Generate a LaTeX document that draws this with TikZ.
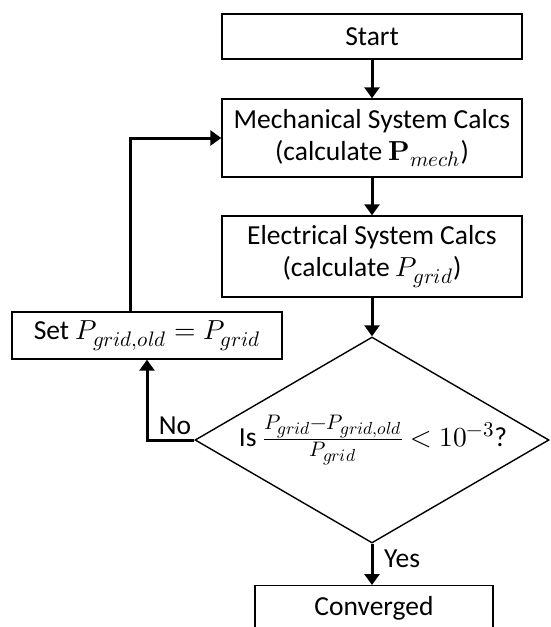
\documentclass[tikz,border=0pt]{standalone}
\usepackage{fontspec}
\usepackage{unicode-math}
\setmainfont{Carlito}
\setmathfont{Latin Modern Math}
\DeclareMathSizes{27.5}{27.5}{21}{17.5}
\usetikzlibrary{arrows.meta,shapes.geometric}
\begin{document}
\begin{tikzpicture}[x=1pt,y=-1pt,
  box/.style={draw,line width=1.4pt,rectangle,inner sep=0pt,align=center,
    font=\fontsize{27.5}{32}\selectfont},
  flow/.style={line width=3pt,-{Triangle[width=15pt,length=11pt]}},
  lbl/.style={font=\fontsize{27.5}{32}\selectfont,inner sep=0pt}]
\useasboundingbox (0,0) rectangle (550,627);
\node[box,minimum width=300pt,minimum height=45pt] (start) at (372,36.5) {Start};
\node[box,minimum width=300pt,minimum height=78pt] (mech) at (372,138)
  {Mechanical System Calcs\\(calculate $\symbf{P}_{mech}$)};
\node[box,minimum width=300pt,minimum height=81pt] (elec) at (372,256.5)
  {Electrical System Calcs\\(calculate $P_{grid}$)};
\node[box,minimum width=270pt,minimum height=47pt] (set) at (147,335.5)
  {Set $P_{grid,old} = P_{grid}$};
\node[draw,line width=1.4pt,diamond,minimum width=354pt,minimum height=206pt,inner sep=0pt] (dec) at (372,440) {};
\node[lbl] (dectext) at (373,440) {Is $\frac{P_{grid}-P_{grid,old}}{P_{grid}} < 10^{-3}$?};
\node[box,minimum width=238pt,minimum height=50pt,anchor=north] (conv) at (374,585) {};
\node[lbl] (convtext) at (374,608) {Converged};
\draw[flow] (start) -- (mech);
\draw[flow] (mech) -- (elec);
\draw[flow] (elec) -- (dec.north);
\draw[flow] (dec.south) -- (conv.north -| dec.south);
\coordinate (nocorner) at (147,440);
\draw[flow] (dec.west) -- (nocorner) -- (set.south);
\coordinate (lp) at (130,138);
\draw[flow] (lp |- set.north) -- (lp) -- (mech.west);
\node[lbl] (nolbl) at (175,426) {No};
\node[lbl,anchor=west] (yeslbl) at (384,559) {Yes};
\end{tikzpicture}
\end{document}
